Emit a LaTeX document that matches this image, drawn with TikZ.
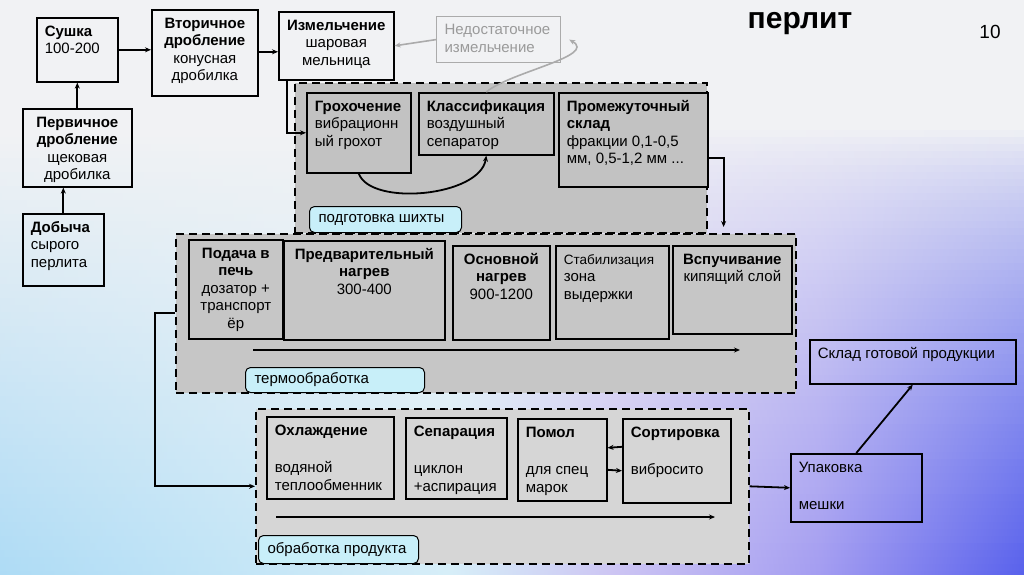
\documentclass[tikz,border=0pt]{standalone}
\usepackage{fontspec}
\setmainfont{Liberation Sans}
\usetikzlibrary{arrows.meta}
\definecolor{bgbase}{HTML}{F1F2F4}
\definecolor{bgA}{HTML}{ADDBF5}
\definecolor{bgB}{HTML}{D6EEF8}
\definecolor{bgC}{HTML}{CCC4F3}
\definecolor{bgD}{HTML}{A39CF1}
\definecolor{bgE}{HTML}{5760EC}
\definecolor{gA}{HTML}{C2C2C2}
\definecolor{gB}{HTML}{C6C6C6}
\definecolor{gC}{HTML}{D6D6D6}
\definecolor{labcyan}{HTML}{C8EFF9}
\definecolor{graybd}{HTML}{ABABAB}
\definecolor{graytx}{HTML}{9A9A9A}
\newcommand\bxt[4]{\parbox[c][#2pt][t]{#1pt}{\vskip6pt#3\strut#4}}
\newcommand\lbt[3]{\parbox[c][#2pt][c]{\dimexpr#1pt-18pt\relax}{#3}}
\newcommand\LA{\raggedright\leftskip=8pt\relax}
\newcommand\CA{\centering}
\begin{document}
\begin{tikzpicture}[x=1pt,y=-1pt,
  box/.style={draw=black, line width=1.6pt, inner sep=0pt, anchor=north west,
    font=\fontsize{15}{17.5}\selectfont},
  cont/.style={draw=black, dash pattern=on 8pt off 5pt, line width=1.6pt,
    anchor=north west, inner sep=0pt},
  lab/.style={draw=black, line width=1pt, rounded corners=5pt, fill=labcyan,
    anchor=north west, inner xsep=9pt, inner ysep=0pt,
    font=\fontsize{15}{17.5}\selectfont},
  arr/.style={line width=1.8pt, -{Stealth[length=6pt,width=5pt]}},
  garr/.style={draw=graybd, line width=1.6pt, -{Stealth[length=6pt,width=5pt]}},
]
% background
\useasboundingbox (0,0) rectangle (1024,574);
\fill[bgbase] (0,0) rectangle (1024,574);
\foreach \i in {0,...,63} {
  \pgfmathsetmacro\yy{130+7*\i}
  \pgfmathsetmacro\yz{130+7*\i+7.6}
  \pgfmathsetmacro\tt{(\i+0.5)/64}
  \pgfmathtruncatemacro\f{100*\tt}
  \pgfmathtruncatemacro\g{100*(\tt^0.7)}
  \colorlet{cA}{bgA!\f!bgbase}
  \colorlet{cB}{bgB!\f!bgbase}
  \colorlet{cC}{bgC!\g!bgbase}
  \colorlet{cD}{bgD!\g!bgbase}
  \colorlet{cE}{bgE!\g!bgbase}
  \pgfdeclarehorizontalshading{bgs\i}{100bp}{color(0bp)=(cA); color(25bp)=(cA); color(47bp)=(cB); color(55bp)=(cC); color(65bp)=(cD); color(75bp)=(cE); color(100bp)=(cE)}
  \fill[shading=bgs\i] (0,\yy) rectangle (1024,\yz);
}

% containers
\node[cont, fill=gA, minimum width=412pt, minimum height=150pt] (prep) at (294,82) {};
\node[cont, fill=gB, minimum width=620pt, minimum height=159pt] (thermo) at (175,233) {};
\node[cont, fill=gC, minimum width=493pt, minimum height=155pt] (proc) at (255,408) {};

% top-left chain
\node[box] (sushka) at (36,17) {\bxt{81}{64}{\LA}{\textbf{Сушка}\\100-200}};
\node[box] (perv) at (22,108) {\bxt{109}{78}{\CA}{\textbf{Первичное}\\\textbf{дробление}\\щековая\\дробилка}};
\node[box] (dobycha) at (22,213) {\bxt{81}{72}{\LA}{\textbf{Добыча}\\сырого\\перлита}};
\node[box] (vtor) at (151,9) {\bxt{106}{86}{\CA}{\textbf{Вторичное}\\\textbf{дробление}\\конусная\\дробилка}};
\node[box] (izm) at (278,11) {\bxt{115}{68}{\CA}{\textbf{Измельчение}\\шаровая\\мельница}};
\node[box, draw=graybd, line width=1.2pt, text=graytx] (nedost) at (436,16) {\bxt{124}{46}{\LA}{Недостаточное\\измельчение}};

% preparation
\node[box, fill=gA] (groh) at (306,92) {\bxt{104}{80}{\LA}{\textbf{Грохочение}\\вибрационн\\ый грохот}};
\node[box, fill=gA] (klass) at (418,92) {\bxt{135}{62}{\LA}{\textbf{Классификация}\\воздушный\\сепаратор}};
\node[box, fill=gA] (prom) at (558,92) {\bxt{149}{94}{\LA}{\textbf{Промежуточный}\\\textbf{склад}\\фракции 0,1-0,5\\мм, 0,5-1,2 мм ...}};
\node[lab] (lab1) at (309,206) {\lbt{152}{26}{подготовка шихты}};

% thermal treatment
\node[box, fill=gB] (podacha) at (188,239) {\bxt{94}{99}{\CA}{\textbf{Подача в}\\\textbf{печь}\\дозатор +\\транспорт\\ёр}};
\node[box, fill=gB] (predv) at (283,240) {\bxt{161}{99}{\CA}{\textbf{Предварительный}\\\textbf{нагрев}\\300-400}};
\node[box, fill=gB] (osnov) at (452,245) {\bxt{97}{94}{\CA}{\textbf{Основной}\\\textbf{нагрев}\\900-1200}};
\node[box, fill=gB] (stab) at (555,245) {\bxt{113}{93}{\LA}{{\fontsize{13.5}{17.5}\selectfont Стабилизация}\\зона\\выдержки}};
\node[box, fill=gB] (vspuch) at (672,245) {\bxt{119}{88}{\CA}{\textbf{Вспучивание}\\кипящий слой}};
\node[lab] (lab2) at (245,367) {\lbt{179}{25}{термообработка}};
\coordinate (t1) at (253,350);
\coordinate (t2) at (740,350);

% product processing
\node[box, fill=gC] (ohl) at (266,416) {\bxt{127}{82}{\LA}{\textbf{Охлаждение}\\[20pt]водяной\\теплообменник}};
\node[box, fill=gC] (separ) at (405,417) {\bxt{101}{81}{\LA}{\textbf{Сепарация}\\[20pt]циклон\\+аспирация}};
\node[box, fill=gC] (pomol) at (517,418) {\bxt{89}{82}{\LA}{\textbf{Помол}\\[20pt]для спец\\марок}};
\node[box, fill=gC] (sort) at (622,418) {\bxt{108}{84}{\LA}{\textbf{Сортировка}\\[20pt]вибросито}};
\node[lab] (lab3) at (258,535) {\lbt{160}{28}{обработка продукта}};
\coordinate (p1) at (276,517);
\coordinate (p2) at (715,517);

% packing and store
\node[box] (upak) at (790,453) {\bxt{131}{68}{\LA}{Упаковка\\[20pt]мешки}};
\node[box] (sklad) at (809,339) {\bxt{206}{44}{\LA}{Склад готовой продукции}};

% title
\node[font=\bfseries\fontsize{30}{34}\selectfont] (title) at (800,24) {перлит};
\node[font=\fontsize{19}{22}\selectfont] (num) at (990,32) {10};

% connectors
\draw[arr] (perv.north) -- (sushka.south);
\draw[arr] (dobycha.north) -- (dobycha.north |- perv.south);
\draw[arr] (sushka.east) -- (sushka.east -| vtor.west);
\draw[arr] ([yshift=-6pt]izm.west -| vtor.east) -- ([yshift=-6pt]izm.west);
\draw[arr] ([xshift=9pt]izm.south west) |- (groh.west);
\draw[arr] (groh.south) .. controls +(12,33) and +(-6,41) .. (klass.south);
\draw[garr] (klass.north) .. controls (510,72) and (598,56) .. ([xshift=8pt]nedost.east);
\draw[garr] (nedost.west) -- (izm.east);
\draw[arr] ([yshift=-18pt]prom.east) -| ([xshift=-73pt,yshift=6pt]thermo.north east);
\draw[arr] (t1) -- (t2);
\draw[arr] (thermo.west) -- ++(-20,0) |- (proc.west);
\draw[arr] (p1) -- (p2);
\draw[arr] ([yshift=14pt]sort.west) -- ([yshift=12pt]pomol.east);
\draw[arr] ([yshift=-10pt]pomol.east) -- ([yshift=-10pt]sort.west);
\draw[arr] (proc.east) -- (upak.west);
\draw[arr] (upak.north) -- (sklad.south);
\end{tikzpicture}
\end{document}
